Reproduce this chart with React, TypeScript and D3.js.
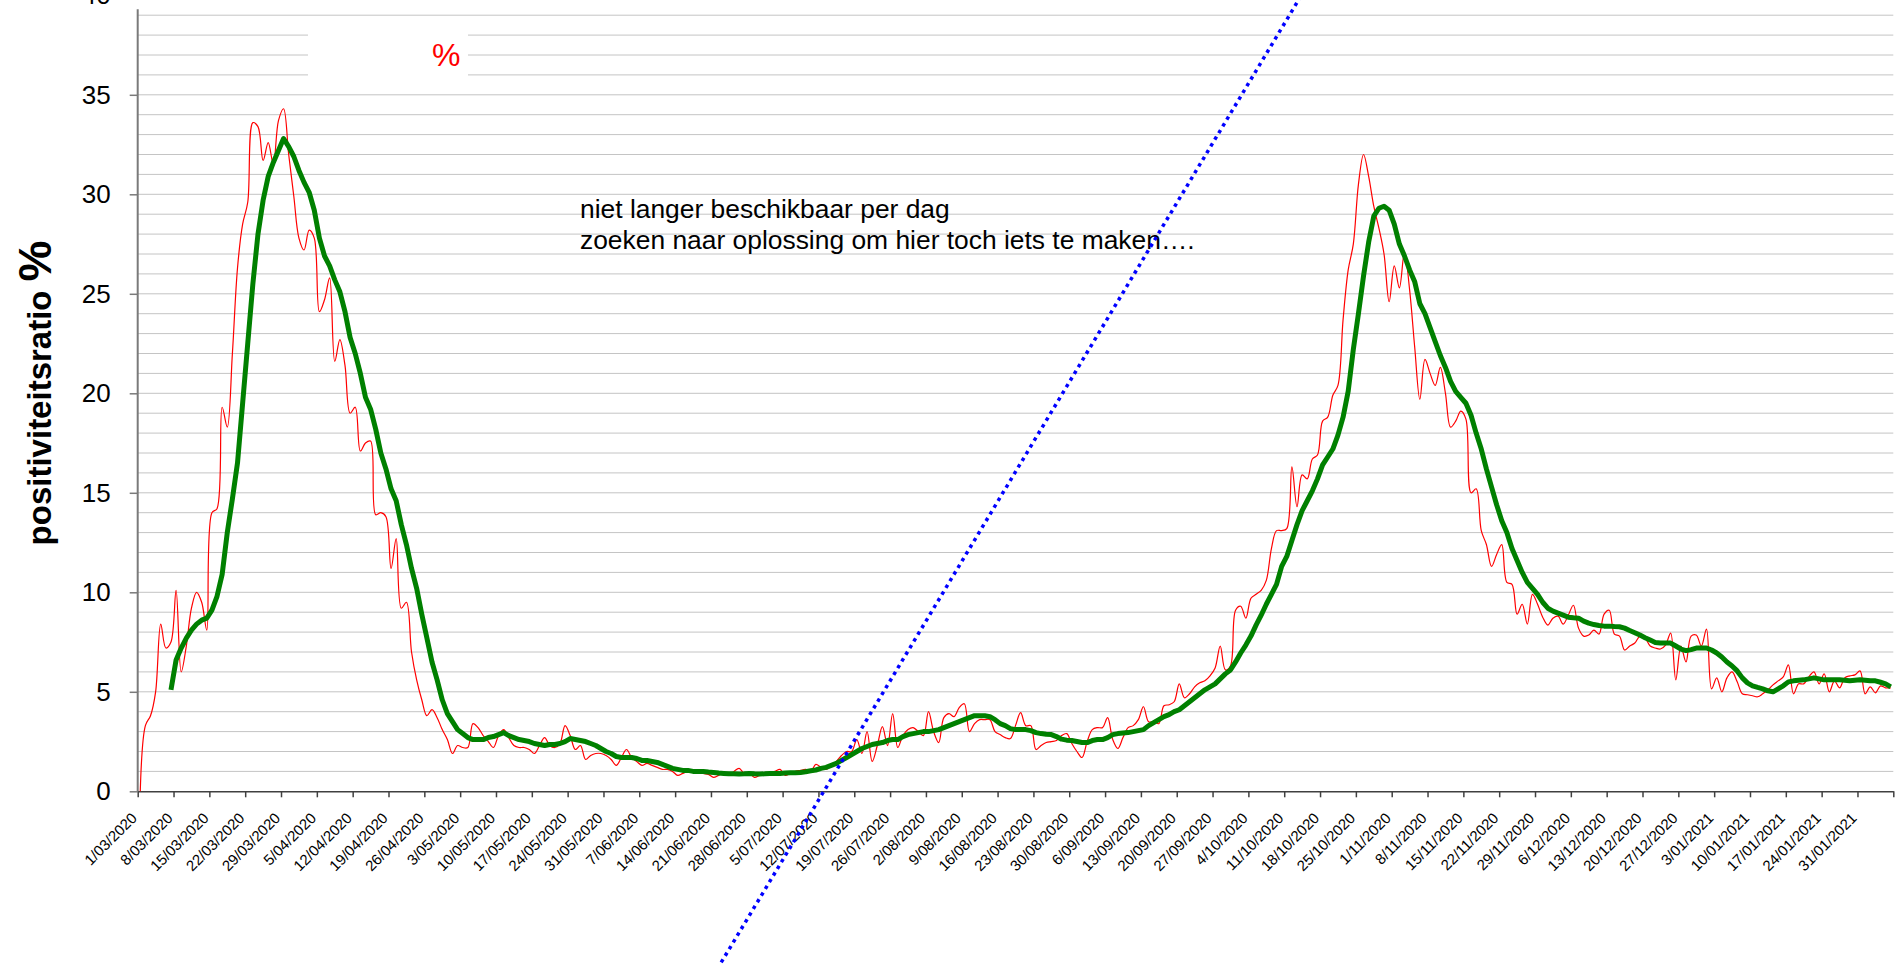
import React, { useEffect, useRef } from 'react';
import * as d3 from 'd3';

// daily positiviteitsratio (%), one value per day starting 1/03/2020
const dailyRatio: number[] = [
  0, 3.3, 3.8, 5.0, 8.4, 7.2, 7.5, 10.1, 6.0, 7.3, 9.2, 10.0, 9.5, 8.1,
  14.0, 14.2, 19.3, 18.3, 22.0, 26.3, 28.5, 29.6, 33.6, 33.4, 31.7, 32.6, 31.5, 33.7,
  34.3, 32.0, 29.9, 27.8, 27.2, 28.2, 27.8, 24.1, 24.7, 25.8, 21.6, 22.7, 21.4, 19.0,
  19.3, 17.1, 17.5, 17.6, 13.9, 14.0, 13.8, 11.2, 12.7, 9.2, 9.5, 7.0, 5.6, 4.6,
  3.8, 4.1, 3.7, 3.1, 2.6, 1.9, 2.3, 2.2, 2.2, 3.4, 3.2, 2.8, 2.5, 2.2,
  2.8, 3.1, 2.7, 2.3, 2.2, 2.2, 2.1, 1.9, 2.3, 2.7, 2.3, 2.2, 2.4, 3.3,
  2.8, 2.1, 2.3, 1.6, 1.8, 1.9, 1.9, 1.8, 1.6, 1.3, 1.7, 2.1, 1.7, 1.5,
  1.3, 1.4, 1.3, 1.2, 1.1, 1.1, 1.0, 0.8, 0.9, 1.0, 1.0, 1.0, 0.9, 0.85,
  0.7, 0.8, 0.9, 0.8, 1.0, 1.15, 0.9, 0.9, 0.7, 0.8, 0.9, 0.9, 1.0, 1.1,
  0.8, 0.9, 1.0, 1.05, 1.1, 1.0, 1.35, 1.2, 1.1, 1.3, 1.5, 1.8, 2.0, 2.0,
  2.6, 1.9, 3.0, 1.5, 2.3, 3.25, 2.3, 3.9, 2.2, 2.8, 3.1, 3.2, 3.0, 2.8,
  4.0, 3.0, 2.45, 3.7, 3.9, 3.75, 4.2, 4.4, 3.0, 3.4, 3.6, 3.6, 3.6, 3.0,
  2.85, 2.7, 2.65, 3.3, 3.95, 3.3, 3.3, 2.1, 2.3, 2.45, 2.5, 2.55, 2.8, 2.9,
  2.4, 2.0, 1.7, 2.5, 3.1, 3.2, 3.2, 3.7, 2.6, 2.15, 2.7, 3.2, 3.3, 3.6,
  4.25, 3.5, 3.5, 3.4, 4.3, 4.35, 4.5, 5.4, 4.7, 4.9, 5.25, 5.45, 5.55, 5.8,
  6.2, 7.3, 6.1, 6.3, 9.1, 9.3, 8.7, 9.7, 9.9, 10.1, 10.6, 12.2, 13.1, 13.1,
  13.2, 16.3, 14.3, 15.9, 15.7, 16.7, 16.9, 18.6, 18.8, 19.9, 20.4, 23.7, 26.2, 27.5,
  30.5, 32.0, 30.9, 29.4, 28.3, 27.0, 24.6, 26.4, 25.3, 27.1, 25.2, 22.3, 19.7, 21.7,
  21.0, 20.4, 21.3, 20.0, 18.3, 18.6, 19.1, 18.7, 15.0, 15.2, 13.1, 12.4, 11.3, 11.9,
  12.4, 10.5, 10.4, 8.9, 9.4, 8.4, 9.9, 9.4, 8.75, 8.35, 8.7, 8.8, 8.4, 8.85,
  9.35, 8.2, 7.8, 7.85, 8.1, 7.9, 8.9, 9.1, 7.9, 7.8, 7.1, 7.3, 7.45, 7.8,
  7.7, 7.3, 7.2, 7.15, 7.35, 7.95, 5.6, 7.3, 6.5, 7.8, 7.85, 7.3, 8.15, 5.15,
  5.7, 5.0, 5.7, 6.0, 5.5, 4.9, 4.85, 4.8, 4.75, 4.9, 5.1, 5.35, 5.55, 5.75,
  6.35, 4.9, 5.4, 5.4, 5.75, 6.0, 5.4, 5.9, 5.0, 5.55, 5.2, 5.7, 5.8, 5.85,
  6.05, 4.9, 5.25, 4.95, 5.3, 5.2, 5.2
];

// 7-daags gemiddelde, first value on day index 6 (7/03/2020)
const avgStart = 6;
const avgRatio: number[] = [
  5.1, 6.6, 7.2, 7.7, 8.1, 8.4, 8.6, 8.7,
  9.1, 9.8, 10.9, 13.0, 14.7, 16.5, 19.5, 22.5, 25.5, 28.0, 29.7, 30.9, 31.6, 32.2,
  32.8, 32.4, 31.9, 31.2, 30.6, 30.1, 29.2, 27.8, 26.9, 26.4, 25.7, 25.1, 24.1, 22.8,
  22.0, 21.0, 19.8, 19.2, 18.2, 17.0, 16.2, 15.2, 14.6, 13.4, 12.4, 11.2, 10.2, 8.9,
  7.7, 6.5, 5.6, 4.6, 3.9, 3.5, 3.1, 2.9, 2.7, 2.6, 2.6, 2.6, 2.7, 2.75,
  2.85, 2.95, 2.8, 2.7, 2.6, 2.55, 2.5, 2.4, 2.35, 2.3, 2.35, 2.35, 2.4, 2.5,
  2.65, 2.6, 2.55, 2.5, 2.4, 2.3, 2.15, 2.0, 1.9, 1.75, 1.7, 1.7, 1.7, 1.65,
  1.55, 1.55, 1.5, 1.45, 1.35, 1.25, 1.15, 1.1, 1.05, 1.05, 1.0, 1.0, 1.0, 0.97,
  0.95, 0.92, 0.9, 0.88, 0.88, 0.87, 0.88, 0.9, 0.88, 0.87, 0.88, 0.9, 0.9, 0.9,
  0.92, 0.93, 0.93, 0.95, 0.98, 1.03, 1.07, 1.15, 1.2, 1.3, 1.4, 1.55, 1.7, 1.85,
  2.0, 2.15, 2.25, 2.35, 2.4, 2.45, 2.55, 2.6, 2.6, 2.75, 2.85, 2.9, 2.95, 3.0,
  3.0, 3.05, 3.1, 3.2, 3.3, 3.4, 3.5, 3.6, 3.7, 3.8, 3.8, 3.8, 3.75, 3.6,
  3.4, 3.3, 3.15, 3.1, 3.1, 3.1, 3.05, 2.95, 2.9, 2.87, 2.85, 2.75, 2.62, 2.57,
  2.55, 2.5, 2.45, 2.45, 2.55, 2.6, 2.6, 2.7, 2.85, 2.9, 2.93, 2.95, 3.0, 3.05,
  3.1, 3.3, 3.45, 3.6, 3.75, 3.85, 4.0, 4.1, 4.3, 4.5, 4.7, 4.9, 5.1, 5.25,
  5.4, 5.65, 5.9, 6.1, 6.5, 6.95, 7.35, 7.8, 8.35, 8.85, 9.4, 9.9, 10.4, 11.3,
  11.8, 12.6, 13.4, 14.1, 14.6, 15.1, 15.7, 16.4, 16.8, 17.2, 17.9, 18.8, 20.1, 22.2,
  24.0, 25.9, 27.6, 28.9, 29.3, 29.4, 29.2, 28.5, 27.5, 26.9, 26.2, 25.6, 24.5, 24.0,
  23.3, 22.6, 21.9, 21.3, 20.6, 20.1, 19.8, 19.5, 18.9, 18.0, 17.2, 16.2, 15.3, 14.4,
  13.6, 13.0, 12.2, 11.6, 11.0, 10.5, 10.2, 9.9, 9.5, 9.2, 9.05, 8.95, 8.85, 8.75,
  8.72, 8.7, 8.55, 8.45, 8.38, 8.33, 8.3, 8.3, 8.28, 8.27, 8.2, 8.08, 7.97, 7.85,
  7.72, 7.6, 7.48, 7.45, 7.45, 7.45, 7.3, 7.15, 7.07, 7.12, 7.2, 7.2, 7.2, 7.1,
  6.95, 6.75, 6.5, 6.3, 6.05, 5.7, 5.45, 5.3, 5.22, 5.15, 5.05, 5.0, 5.15, 5.3,
  5.5, 5.55, 5.58, 5.6, 5.65, 5.7, 5.65, 5.6, 5.6, 5.6, 5.6, 5.58, 5.55, 5.58,
  5.6, 5.58, 5.55, 5.55, 5.48, 5.4, 5.25
];

// weekly date labels under the x axis
const weekLabels: string[] = [
  '1/03/2020', '8/03/2020', '15/03/2020', '22/03/2020', '29/03/2020', '5/04/2020', '12/04/2020',
  '19/04/2020', '26/04/2020', '3/05/2020', '10/05/2020', '17/05/2020', '24/05/2020', '31/05/2020',
  '7/06/2020', '14/06/2020', '21/06/2020', '28/06/2020', '5/07/2020', '12/07/2020', '19/07/2020',
  '26/07/2020', '2/08/2020', '9/08/2020', '16/08/2020', '23/08/2020', '30/08/2020', '6/09/2020',
  '13/09/2020', '20/09/2020', '27/09/2020', '4/10/2020', '11/10/2020', '18/10/2020', '25/10/2020',
  '1/11/2020', '8/11/2020', '15/11/2020', '22/11/2020', '29/11/2020', '6/12/2020', '13/12/2020',
  '20/12/2020', '27/12/2020', '3/01/2021', '10/01/2021', '17/01/2021', '24/01/2021', '31/01/2021'
];
const axisEnd = '7/02/2021';

const yTickValues: number[] = [0, 5, 10, 15, 20, 25, 30, 35, 40];
const yTitle = 'positiviteitsratio';
const noteLines: string[] = [
  'niet langer beschikbaar per dag',
  'zoeken naar oplossing om hier toch iets te maken….'
];
// the blue dotted line, as two points in chart units
const blueLine = [
  { date: '23/06/2020', value: -8.6 },
  { date: '14/10/2020', value: 39.85 }
];

const W = 1898;
const H = 970;
const FONT = "'Liberation Sans', Arial, sans-serif";

const parse = d3.utcParse('%d/%m/%Y');

const App = () => {
  const ref = useRef<SVGSVGElement>(null);

  useEffect(() => {
    const svg = d3.select(ref.current);
    svg.selectAll('*').remove();

    const start = parse(weekLabels[0]) as Date;
    const end = parse(axisEnd) as Date;

    let x = d3.scaleUtc().domain([start, end]).range([137.7, 1893.3]);
    let y = d3.scaleLinear().domain([0, 40]).range([791.3, -4.7]);

    // points sit in the middle of their day
    const dayX = (i: number) => x(d3.utcHour.offset(d3.utcDay.offset(start, i), 12));

    // horizontal gridlines, one per unit
    svg.append('g')
      .selectAll('line')
      .data(d3.range(1, 40))
      .join('line')
      .attr('x1', 137.7)
      .attr('x2', 1893.3)
      .attr('y1', d => y(d))
      .attr('y2', d => y(d))
      .attr('stroke', '#c4c4c4')
      .attr('stroke-width', 1);

    // white title box with a red %
    svg.append('rect')
      .attr('x', 308).attr('y', 22).attr('width', 160).attr('height', 66)
      .attr('fill', 'white');
    svg.append('text')
      .attr('x', 432).attr('y', 66)
      .attr('font-family', FONT).attr('font-size', 32)
      .attr('fill', '#ff0000')
      .text('%');

    // y axis
    const yAxis = svg.append('g')
      .attr('transform', 'translate(137.7,0)')
      .call(d3.axisLeft(y).tickValues(yTickValues).tickSize(8).tickPadding(19).tickFormat(d3.format('d')));
    yAxis.select('.domain').remove();
    yAxis.selectAll('line').attr('stroke', '#7a7a7a').attr('stroke-width', 1.5);
    yAxis.selectAll('text')
      .attr('font-family', FONT).attr('font-size', 26).attr('fill', '#000');
    svg.append('line')
      .attr('x1', 137.7).attr('x2', 137.7)
      .attr('y1', y(39.3)).attr('y2', y(0))
      .attr('stroke', '#7a7a7a').attr('stroke-width', 2);

    // x axis
    const tickDates = weekLabels.map(s => parse(s) as Date).concat([end]);
    const xAxis = svg.append('g')
      .attr('transform', `translate(0,${y(0)})`)
      .call(d3.axisBottom(x).tickValues(tickDates).tickSize(6).tickSizeOuter(0)
        .tickFormat((d, i) => (i < weekLabels.length ? weekLabels[i] : '')));
    xAxis.select('.domain').attr('stroke', '#404040').attr('stroke-width', 1.5);
    xAxis.selectAll('line').attr('stroke', '#404040').attr('stroke-width', 1.5);
    xAxis.selectAll('text')
      .attr('font-family', FONT).attr('font-size', 15).attr('fill', '#000')
      .attr('text-anchor', 'end')
      .attr('x', 0).attr('y', 0).attr('dy', '0.35em')
      .attr('transform', 'translate(-4,24) rotate(-45)');

    // y axis title, the % is set larger
    const title = svg.append('text')
      .attr('transform', 'translate(51,393) rotate(-90)')
      .attr('text-anchor', 'middle')
      .attr('font-family', FONT).attr('font-weight', 'bold').attr('font-size', 33)
      .attr('fill', '#000');
    title.append('tspan').text(yTitle);
    title.append('tspan').attr('dx', 9).attr('font-size', 46).text('%');

    // daily values, thin red
    const redLine = d3.line<number>()
      .x((d, i) => dayX(i))
      .y(d => y(d))
      .curve(d3.curveCatmullRom.alpha(0.5));
    svg.append('path')
      .attr('d', redLine(dailyRatio))
      .attr('fill', 'none')
      .attr('stroke', '#ff0000')
      .attr('stroke-width', 1.2);

    // 7 day average, thick green
    const greenLine = d3.line<number>()
      .x((d, i) => dayX(i + avgStart))
      .y(d => y(d));
    svg.append('path')
      .attr('d', greenLine(avgRatio))
      .attr('fill', 'none')
      .attr('stroke', '#008000')
      .attr('stroke-width', 5)
      .attr('stroke-linejoin', 'round');

    // note
    svg.append('g')
      .selectAll('text')
      .data(noteLines)
      .join('text')
      .attr('x', 580)
      .attr('y', (d, i) => 218 + i * 31)
      .attr('font-family', FONT).attr('font-size', 26.4).attr('fill', '#000')
      .text(d => d);

    // blue dotted line
    svg.append('line')
      .attr('x1', x(parse(blueLine[0].date) as Date)).attr('y1', y(blueLine[0].value))
      .attr('x2', x(parse(blueLine[1].date) as Date)).attr('y2', y(blueLine[1].value))
      .attr('stroke', '#0000ff')
      .attr('stroke-width', 3.5)
      .attr('stroke-dasharray', '3.5 4.3');
  }, []);

  return (
    <svg ref={ref} width={W} height={H}
      style={{ position: 'absolute', left: 0, top: 0, background: 'white' }} />
  );
};

export default App;
